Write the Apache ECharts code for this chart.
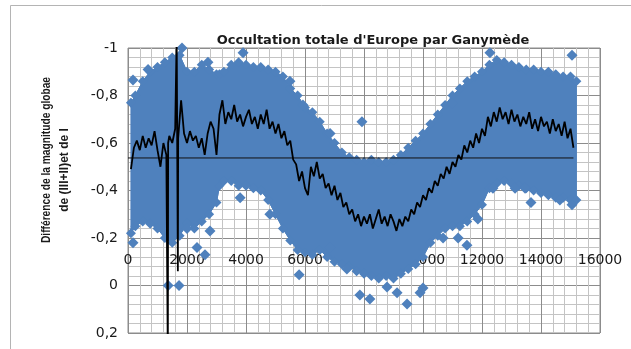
<!DOCTYPE html>
<html>
<head>
<meta charset="utf-8">
<script src="https://cdn.jsdelivr.net/npm/echarts@6/dist/echarts.min.js"></script>
<style>
html, body { margin: 0; padding: 0; background: #fff; }
#chart { width: 631px; height: 349px; }
</style>
</head>
<body>
<div id="chart"></div>
<script>
// Chart text
const titleText = "Occultation totale d'Europe par Ganymède";
const yNameLine1 = 'Différence de la magnitude globae';
const yNameLine2 = 'de (III+II)et de I';

// Axis ranges
const xMin = 0, xMax = 16000, xStep = 2000;
const yMin = -1, yMax = 0.2, yStep = 0.2;

// Envelope of the dense cloud of measurements (upper = most negative edge)
const bandX = [100, 250, 500, 750, 1000, 1250, 1500, 1750, 2000, 2250, 2500, 2750, 3000, 3100,
  3250, 3500, 3750, 4000, 4250, 4500, 4750, 5000, 5250, 5500, 5750, 6000, 6250, 6500, 6750, 7000,
  7250, 7500, 7750, 8000, 8250, 8500, 8750, 9000, 9250, 9500, 9750, 10000, 10250, 10500, 10750, 11000,
  11250, 11500, 11750, 12000, 12250, 12500, 12750, 13000, 13250, 13500, 13750, 14000, 14250, 14500,
  14750, 15000, 15200];
const bandTop = [-0.77, -0.80, -0.86, -0.90, -0.92, -0.94, -0.96, -0.97, -0.90, -0.90, -0.93, -0.91, -0.89, -0.89,
  -0.90, -0.93, -0.94, -0.93, -0.92, -0.92, -0.91, -0.90, -0.88, -0.83, -0.80, -0.75, -0.73, -0.69, -0.64, -0.60,
  -0.56, -0.54, -0.53, -0.52, -0.53, -0.52, -0.52, -0.53, -0.55, -0.58, -0.61, -0.64, -0.68, -0.72, -0.76, -0.80,
  -0.83, -0.86, -0.88, -0.90, -0.93, -0.95, -0.94, -0.93, -0.92, -0.91, -0.91, -0.90, -0.90, -0.89,
  -0.88, -0.88, -0.86];
const bandBottom = [-0.22, -0.25, -0.27, -0.26, -0.24, -0.20, -0.18, -0.21, -0.26, -0.24, -0.27, -0.30, -0.35, -0.42,
  -0.44, -0.44, -0.42, -0.42, -0.41, -0.40, -0.36, -0.30, -0.24, -0.19, -0.15, -0.14, -0.13, -0.15, -0.12, -0.10,
  -0.09, -0.08, -0.06, -0.05, -0.04, -0.03, -0.04, -0.03, -0.05, -0.07, -0.09, -0.12, -0.18, -0.21, -0.24, -0.25,
  -0.25, -0.27, -0.30, -0.34, -0.41, -0.43, -0.44, -0.43, -0.42, -0.41, -0.40, -0.39, -0.38, -0.37,
  -0.37, -0.36, -0.36];

// Isolated measurements outside the main cloud
const ptX = [170, 680, 1830, 2710, 3900, 5490, 5930, 6850, 7930, 10980, 12270, 15050,
  170, 1360, 1730, 2000, 2340, 2610, 2780, 3800, 4810, 5800, 6850, 7420, 7860, 8200, 8780,
  9120, 9460, 9900, 10000, 10680, 11190, 11490, 11860, 12370, 13120, 13460, 13660, 14640, 15050];
const ptY = [-0.865, -0.91, -1.0, -0.94, -0.98, -0.86, -0.76, -0.64, -0.69, -0.77, -0.98, -0.97,
  -0.18, 0.0, 0.0, -0.24, -0.16, -0.13, -0.23, -0.37, -0.30, -0.045, -0.16, -0.07, 0.04, 0.057, 0.006,
  0.03, 0.078, 0.03, 0.01, -0.20, -0.20, -0.17, -0.28, -0.41, -0.41, -0.41, -0.35, -0.36, -0.34];

// Running mean, sampled every 100 from x = 100
const avgStart = 100, avgStep = 100;
const avgValues = [
  -0.49, -0.58, -0.61, -0.57, -0.63, -0.58, -0.62, -0.59, -0.65, -0.57,
  -0.50, -0.60, -0.55, -0.63, -0.60, -0.66, -0.62, -0.78, -0.64, -0.60,
  -0.65, -0.61, -0.63, -0.58, -0.62, -0.55, -0.64, -0.69, -0.66, -0.55,
  -0.72, -0.78, -0.68, -0.73, -0.70, -0.76, -0.69, -0.72, -0.67, -0.71,
  -0.74, -0.68, -0.71, -0.66, -0.72, -0.68, -0.74, -0.66, -0.69, -0.64,
  -0.68, -0.62, -0.65, -0.59, -0.61, -0.53, -0.51, -0.44, -0.48, -0.41,
  -0.38, -0.50, -0.46, -0.52, -0.45, -0.47, -0.41, -0.43, -0.38, -0.42,
  -0.36, -0.39, -0.33, -0.35, -0.30, -0.32, -0.27, -0.30, -0.25, -0.29,
  -0.26, -0.30, -0.24, -0.28, -0.32, -0.26, -0.29, -0.25, -0.30, -0.27,
  -0.23, -0.28, -0.25, -0.29, -0.27, -0.32, -0.30, -0.35, -0.33, -0.38,
  -0.36, -0.41, -0.39, -0.44, -0.42, -0.47, -0.45, -0.50, -0.47, -0.52,
  -0.50, -0.55, -0.53, -0.59, -0.56, -0.61, -0.58, -0.64, -0.60, -0.66,
  -0.63, -0.71, -0.67, -0.73, -0.69, -0.75, -0.70, -0.73, -0.68, -0.74,
  -0.69, -0.72, -0.67, -0.71, -0.68, -0.73, -0.66, -0.70, -0.65, -0.71,
  -0.67, -0.69, -0.64, -0.70, -0.65, -0.68, -0.63, -0.69, -0.62, -0.66,
  -0.58
];
// Glitches in the running mean
const spikeX = [1350, 1360, 1650, 1690];
const spikeY = [0.30, -0.60, -1.05, -0.06];

// Overall mean level
const meanLevel = -0.537;
const meanFrom = 0, meanTo = 15100;

const blue = '#4f81bd';

const avgPoints = avgValues.map((v, i) => [avgStart + i * avgStep, v])
  .concat(spikeX.map((x, i) => [x, spikeY[i]]))
  .sort((a, b) => a[0] - b[0]);

// Filled polygon between the upper and lower envelopes
function renderCloud(params, api) {
  const pts = [];
  for (let i = 0; i < bandX.length; i++) pts.push(api.coord([bandX[i], bandTop[i]]));
  for (let i = bandX.length - 1; i >= 0; i--) pts.push(api.coord([bandX[i], bandBottom[i]]));
  return {
    type: 'polygon',
    shape: { points: pts },
    style: { fill: blue, stroke: blue, lineWidth: 1 }
  };
}

const chart = echarts.init(document.getElementById('chart'), null, { renderer: 'canvas' });

chart.setOption({
  animation: false,
  backgroundColor: '#fff',
  title: {
    text: titleText,
    left: 368,
    top: 29,
    textAlign: 'center',
    textStyle: { fontFamily: 'DejaVu Sans', fontWeight: 'bold', fontSize: 13, color: '#1a1a1a' }
  },
  graphic: [
    {
      type: 'rect', silent: true, z: -10,
      shape: { x: 10.5, y: 5.5, width: 700, height: 400 },
      style: { fill: 'none', stroke: '#b4b4b4', lineWidth: 1 }
    },
    {
      type: 'text', silent: true,
      x: 47, y: 160, rotation: Math.PI / 2, scaleX: 0.85,
      style: {
        text: yNameLine1, fontFamily: 'Liberation Sans', fontWeight: 'bold', fontSize: 12,
        fill: '#1a1a1a', align: 'center', verticalAlign: 'middle'
      }
    },
    {
      type: 'text', silent: true,
      x: 65, y: 170, rotation: Math.PI / 2, scaleX: 1.0,
      style: {
        text: yNameLine2, fontFamily: 'Liberation Sans', fontWeight: 'bold', fontSize: 12,
        fill: '#1a1a1a', align: 'center', verticalAlign: 'middle'
      }
    }
  ],
  grid: { left: 128, top: 48, width: 472, height: 285, show: true, borderColor: '#8c8c8c', borderWidth: 1 },
  xAxis: {
    type: 'value', min: xMin, max: xMax, interval: xStep,
    offset: -82,
    axisLine: { show: false }, axisTick: { show: false },
    axisLabel: {
      margin: 2, fontFamily: 'DejaVu Sans', fontSize: 14, color: '#1a1a1a',
      formatter: v => String(v)
    },
    splitLine: { show: true, lineStyle: { color: '#8c8c8c', width: 1 } },
    minorTick: { show: false, splitNumber: 5 },
    minorSplitLine: { show: true, lineStyle: { color: '#c4c4c4', width: 1 } }
  },
  yAxis: {
    type: 'value', min: yMin, max: yMax, interval: yStep, inverse: true,
    axisLine: { show: false }, axisTick: { show: false },
    axisLabel: {
      margin: 10, fontFamily: 'DejaVu Sans', fontSize: 14, color: '#1a1a1a',
      formatter: v => String(+v.toFixed(1)).replace('.', ',')
    },
    splitLine: { show: true, lineStyle: { color: '#8c8c8c', width: 1 } },
    minorTick: { show: false, splitNumber: 5 },
    minorSplitLine: { show: true, lineStyle: { color: '#c4c4c4', width: 1 } }
  },
  series: [
    {
      type: 'custom', name: 'cloud', z: 1, clip: true,
      renderItem: renderCloud,
      data: [[bandX[0], bandTop[0]]]
    },
    {
      type: 'line', name: 'cloudTop', z: 1,
      data: bandX.map((x, i) => [x, bandTop[i]]),
      symbol: 'diamond', symbolSize: 10, showSymbol: true,
      itemStyle: { color: blue, opacity: 1 }, lineStyle: { color: blue, width: 1 }
    },
    {
      type: 'line', name: 'cloudBottom', z: 1,
      data: bandX.map((x, i) => [x, bandBottom[i]]),
      symbol: 'diamond', symbolSize: 10, showSymbol: true,
      itemStyle: { color: blue, opacity: 1 }, lineStyle: { color: blue, width: 1 }
    },
    {
      type: 'scatter', name: 'points', z: 2,
      data: ptX.map((x, i) => [x, ptY[i]]),
      symbol: 'diamond', symbolSize: 11,
      itemStyle: { color: blue, opacity: 1 }
    },
    {
      type: 'line', name: 'mean', z: 3,
      data: [[meanFrom, meanLevel], [meanTo, meanLevel]],
      showSymbol: false, symbol: 'none',
      lineStyle: { color: '#111', width: 1 }
    },
    {
      type: 'line', name: 'runningMean', z: 4,
      data: avgPoints, showSymbol: false, symbol: 'none', clip: true,
      lineStyle: { color: '#000', width: 1.8 }
    }
  ]
});
</script>
</body>
</html>
